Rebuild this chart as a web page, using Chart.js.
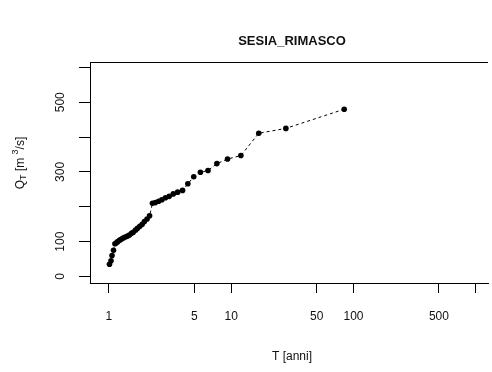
<!DOCTYPE html>
<html>
<head>
<meta charset="utf-8">
<script src="https://cdn.jsdelivr.net/npm/chart.js@4.4.1/dist/chart.umd.min.js"></script>
<style>
  html, body { margin: 0; padding: 0; background: #fff; }
  #wrap { width: 492px; height: 372px; }
</style>
</head>
<body>
<div id="wrap"><canvas id="qtChart"></canvas></div>
<script>
// return period T [anni] and discharge Q_T [m3/s]
const periods = [84, 28, 16.8, 12, 9.33, 7.64, 6.46, 5.6, 4.94, 4.42, 4.0, 3.65, 3.36, 3.11,
  2.9, 2.71, 2.55, 2.4, 2.27, 2.15, 2.05, 1.95, 1.87, 1.79, 1.71, 1.65, 1.58, 1.53, 1.47,
  1.42, 1.38, 1.33, 1.29, 1.25, 1.22, 1.18, 1.15, 1.12, 1.09, 1.06, 1.04, 1.01];
const discharges = [480, 425, 411, 347, 337, 324, 304, 299, 286, 266, 247, 242, 237, 230,
  226, 220, 216, 212, 210, 174, 165, 158, 150, 144, 138, 133, 127, 124, 119,
  116, 114, 112, 109, 106, 104, 100, 97, 94, 75, 60, 45, 35];

const xTicks = [1, 5, 10, 50, 100, 500, 1000];
const xTickLabels = ['1', '5', '10', '50', '100', '500', ''];
const yTicks = [0, 100, 200, 300, 400, 500, 600];
const yTickLabels = ['0', '100', '', '300', '', '500', ''];

const FONT = '"Liberation Sans", Arial, sans-serif';

const points = periods.map((t, i) => ({ x: t, y: discharges[i] }));

// R-style extras: title, axis titles, rotated y labels, top border
const rDecor = {
  id: 'rDecor',
  afterDraw(chart) {
    const ctx = chart.ctx;
    const a = chart.chartArea;
    const ys = chart.scales.y;
    ctx.save();
    ctx.strokeStyle = '#000';
    ctx.lineWidth = 1;
    ctx.beginPath();
    ctx.moveTo(a.left, a.top + 0.5);
    ctx.lineTo(a.right, a.top + 0.5);
    ctx.stroke();

    ctx.fillStyle = '#111';
    ctx.font = 'bold 13px ' + FONT;
    ctx.textAlign = 'center';
    ctx.textBaseline = 'middle';
    ctx.fillText('SESIA_RIMASCO', 292, 41);

    ctx.font = '12px ' + FONT;
    ctx.fillText('T [anni]', 292, 357);

    // rotated y tick labels
    yTicks.forEach((v, i) => {
      if (!yTickLabels[i]) return;
      ctx.save();
      ctx.translate(61, ys.getPixelForValue(v));
      ctx.rotate(-Math.PI / 2);
      ctx.fillText(yTickLabels[i], 0, 0);
      ctx.restore();
    });

    // y title: Q_T [m ^3/s]
    ctx.save();
    ctx.translate(21, 163);
    ctx.rotate(-Math.PI / 2);
    ctx.textAlign = 'left';
    ctx.textBaseline = 'middle';
    const parts = [
      { t: 'Q', size: 12, dy: 0 },
      { t: 'T', size: 9, dy: 3 },
      { t: ' [m ', size: 12, dy: 0 },
      { t: '3', size: 9, dy: -5 },
      { t: '/s]', size: 12, dy: 0 }
    ];
    let total = 0;
    parts.forEach(p => { ctx.font = p.size + 'px ' + FONT; total += ctx.measureText(p.t).width; });
    let x = -total / 2;
    parts.forEach(p => {
      ctx.font = p.size + 'px ' + FONT;
      ctx.fillText(p.t, x, p.dy);
      x += ctx.measureText(p.t).width;
    });
    ctx.restore();
    ctx.restore();
  }
};

const ctx = document.getElementById('qtChart').getContext('2d');
const qtChart = new Chart(ctx, {
  type: 'scatter',
  data: {
    datasets: [{
      data: points,
      showLine: true,
      borderColor: '#000',
      borderWidth: 1,
      borderDash: [3, 3],
      backgroundColor: '#000',
      pointBackgroundColor: '#000',
      pointBorderColor: '#000',
      pointRadius: 2.8,
      pointBorderWidth: 0,
      tension: 0
    }]
  },
  options: {
    responsive: true,
    maintainAspectRatio: false,
    animation: false,
    layout: { padding: { top: 62, left: 0, right: 0, bottom: 0 } },
    plugins: {
      legend: { display: false },
      tooltip: { enabled: false }
    },
    scales: {
      x: {
        type: 'logarithmic',
        min: 0.7436,
        max: 1260,
        afterBuildTicks: s => { s.ticks = xTicks.map(v => ({ value: v })); },
        afterFit: s => { s.height = 89; },
        ticks: {
          autoSkip: false,
          maxRotation: 0,
          padding: 16,
          color: '#111',
          font: { family: FONT, size: 12 },
          callback: (v) => xTickLabels[xTicks.indexOf(v)] ?? ''
        },
        grid: { drawOnChartArea: false, drawTicks: true, tickLength: 10, color: '#000', tickColor: '#000' },
        border: { display: true, color: '#000', width: 1 }
      },
      y: {
        type: 'linear',
        min: -18.7,
        max: 615.5,
        afterBuildTicks: s => { s.ticks = yTicks.map(v => ({ value: v })); },
        afterFit: s => { s.width = 90; },
        ticks: { display: false },
        grid: { drawOnChartArea: false, drawTicks: true, tickLength: 11, color: '#000', tickColor: '#000' },
        border: { display: true, color: '#000', width: 1 }
      }
    }
  },
  plugins: [rDecor]
});
</script>
</body>
</html>
